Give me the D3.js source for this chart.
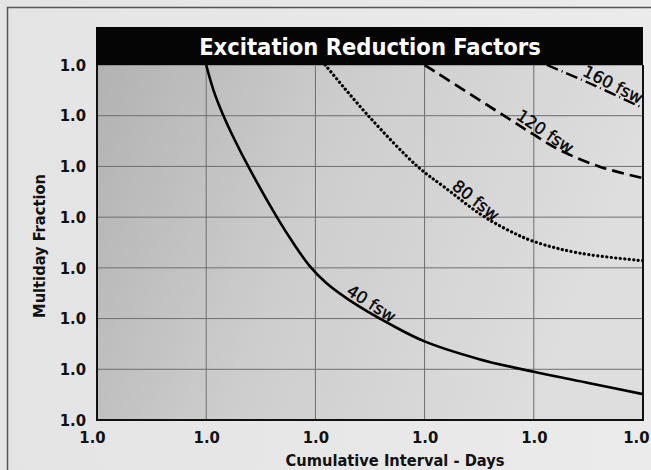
<!DOCTYPE html>
<html><head><meta charset="utf-8">
<script src="https://cdn.jsdelivr.net/npm/d3@7"></script>
<style>
html,body{margin:0;padding:0;background:#e6e6e6;}
svg{display:block;}
</style></head>
<body>
<svg id="chart" width="651" height="470"></svg>
<script>
// ---- data ----
const chartTitle = "Excitation Reduction Factors";
const xAxisTitle = "Cumulative Interval - Days";
const yAxisTitle = "Multiday Fraction";
const xTicks = [0, 1, 2, 3, 4, 5];
const xTickLabels = ["1.0", "1.0", "1.0", "1.0", "1.0", "1.0"];
const yTicks = [0.3, 0.4, 0.5, 0.6, 0.7, 0.8, 0.9, 1.0];
const yTickLabels = ["1.0", "1.0", "1.0", "1.0", "1.0", "1.0", "1.0", "1.0"];

const seriesNames = ["40 fsw", "80 fsw", "120 fsw", "160 fsw"];
const x40 = [1.0, 1.07, 1.15, 1.25, 1.4, 1.65, 1.8, 1.95, 2.1, 2.3, 2.7, 3.0, 3.5, 4.0, 4.5, 5.0];
const y40 = [1.0, 0.948, 0.904, 0.857, 0.794, 0.699, 0.648, 0.603, 0.57, 0.538, 0.487, 0.455, 0.42, 0.395, 0.373, 0.351];
const x80 = [2.09, 2.48, 2.94, 3.17, 3.51, 3.75, 4.0, 4.42, 5.0];
const y80 = [1.0, 0.901, 0.799, 0.761, 0.706, 0.676, 0.652, 0.629, 0.614];
const x120 = [3.0, 3.72, 3.99, 4.24, 4.61, 5.0];
const y120 = [1.0, 0.901, 0.864, 0.832, 0.799, 0.777];
const x160 = [4.12, 4.5, 5.0];
const y160 = [1.0, 0.965, 0.915];
const labelAtX = [2.47, 3.42, 4.06, 4.69];

// ---- layout ----
const svg = d3.select("#chart");
const W = 651, H = 470;
const L = 97, R = 643, T = 65, B = 420;
const x = d3.scaleLinear().domain([0, 5]).range([L, R]);
const y = d3.scaleLinear().domain([0.3, 1.0]).range([B, T]);

const defs = svg.append("defs");
const g1 = defs.append("linearGradient").attr("id", "bg").attr("x1", "0").attr("y1", "0").attr("x2", "1").attr("y2", "0.25");
g1.append("stop").attr("offset", "0").attr("stop-color", "#b2b2b2");
g1.append("stop").attr("offset", "0.45").attr("stop-color", "#cdcdcd");
g1.append("stop").attr("offset", "1").attr("stop-color", "#dedede");
const g2 = defs.append("linearGradient").attr("id", "outer").attr("x1", "0").attr("y1", "0").attr("x2", "1").attr("y2", "0");
g2.append("stop").attr("offset", "0").attr("stop-color", "#e4e4e4");
g2.append("stop").attr("offset", "1").attr("stop-color", "#ebebeb");
defs.append("clipPath").attr("id", "clip").append("rect")
  .attr("x", L).attr("y", T).attr("width", R - L).attr("height", B - T);

// outer background + frame
svg.append("rect").attr("width", W).attr("height", H).attr("fill", "url(#outer)");
svg.append("path").attr("d", `M7.5,${H} V7.5 H${W}`).attr("fill", "none").attr("stroke", "#555").attr("stroke-width", 1.5);

// plot background
svg.append("rect").attr("x", L).attr("y", T).attr("width", R - L).attr("height", B - T).attr("fill", "url(#bg)");

// grid
const grid = svg.append("g");
grid.selectAll("line.v").data(xTicks).join("line").attr("class", "v")
  .attr("x1", d => x(d)).attr("x2", d => x(d)).attr("y1", T).attr("y2", B)
  .attr("stroke", "#6e6e6e").attr("stroke-width", 1);
grid.selectAll("line.h").data(yTicks).join("line").attr("class", "h")
  .attr("x1", L).attr("x2", R).attr("y1", d => y(d)).attr("y2", d => y(d))
  .attr("stroke", "#6e6e6e").attr("stroke-width", 1);

// axes (labels)
const tickFont = "'DejaVu Sans Condensed', 'DejaVu Sans', sans-serif";
const yAxis = d3.axisLeft(y).tickValues(yTicks).tickFormat((d, i) => yTickLabels[i]).tickSize(0).tickPadding(11);
const ya = svg.append("g").attr("transform", `translate(${L},0)`).call(yAxis);
ya.select(".domain").remove();
ya.selectAll("text").attr("font-family", tickFont).attr("font-weight", "bold").attr("font-size", 16.5).attr("fill", "#111");

const xAxis = d3.axisBottom(x).tickValues(xTicks).tickFormat((d, i) => xTickLabels[i]).tickSize(0).tickPadding(11);
const xa = svg.append("g").attr("transform", `translate(0,${B})`).call(xAxis);
xa.select(".domain").remove();
xa.selectAll("text").attr("font-family", tickFont).attr("font-weight", "bold").attr("font-size", 16.5).attr("fill", "#111");
// keep edge labels inside the picture, as in the reference
xa.selectAll("text").each(function (d, i) {
  const bb = this.getBBox();
  const cx = x(d);
  let shift = 0;
  if (i === 0) shift = -5;
  if (cx + bb.width / 2 > W - 2) shift = (W - 2) - (cx + bb.width / 2);
  d3.select(this).attr("dx", shift);
});

// plot border
svg.append("path").attr("d", `M${L},${T} V${B} H${R} V${T}`).attr("fill", "none").attr("stroke", "#111").attr("stroke-width", 2);

// curves
const seriesX = [x40, x80, x120, x160];
const seriesY = [y40, y80, y120, y160];
const dashes = [null, "0.1 4.4", "12 6", "12 4 1 4"];
const caps = ["butt", "round", "butt", "butt"];
const widths = [2.6, 3.2, 2.7, 2.4];
const line = d3.line().x(d => x(d[0])).y(d => y(d[1])).curve(d3.curveCatmullRom.alpha(0.5));
const curves = svg.append("g").attr("clip-path", "url(#clip)");
const paths = [];
seriesNames.forEach((name, i) => {
  const pts = seriesX[i].map((v, j) => [v, seriesY[i][j]]);
  const p = curves.append("path").datum(pts).attr("d", line)
    .attr("fill", "none").attr("stroke", "#000").attr("stroke-width", widths[i])
    .attr("stroke-linecap", caps[i]);
  if (dashes[i]) p.attr("stroke-dasharray", dashes[i]);
  paths.push(p.node());
});

// curve labels placed along the curves
const labFont = "'DejaVu Sans', sans-serif";
seriesNames.forEach((name, i) => {
  const node = paths[i];
  const len = node.getTotalLength();
  const px = x(labelAtX[i]);
  let lo = 0, hi = len;
  for (let k = 0; k < 40; k++) {
    const mid = (lo + hi) / 2;
    if (node.getPointAtLength(mid).x < px) lo = mid; else hi = mid;
  }
  const p0 = node.getPointAtLength(Math.max(0, lo - 10));
  const p1 = node.getPointAtLength(Math.min(len, lo + 10));
  const pc = node.getPointAtLength(lo);
  const ang = Math.atan2(p1.y - p0.y, p1.x - p0.x);
  const off = 3;
  const nx = Math.sin(ang) * off, ny = -Math.cos(ang) * off;
  svg.append("text")
    .attr("transform", `translate(${pc.x + nx},${pc.y + ny}) rotate(${ang * 180 / Math.PI + 2})`)
    .attr("text-anchor", "middle")
    .attr("font-family", labFont).attr("font-size", 16.5).attr("fill", "#000")
    .attr("stroke", "#000").attr("stroke-width", 0.35)
    .text(name);
});

// title bar
svg.append("rect").attr("x", L - 1).attr("y", 27).attr("width", R - L + 1).attr("height", T - 27).attr("fill", "#050505");
svg.append("text").attr("x", 370).attr("y", 55)
  .attr("text-anchor", "middle").attr("font-family", tickFont).attr("font-weight", "bold")
  .attr("font-size", 23.5).attr("fill", "#fff").text(chartTitle);

// axis titles
svg.append("text").attr("x", 395).attr("y", 466)
  .attr("text-anchor", "middle").attr("font-family", tickFont).attr("font-weight", "bold")
  .attr("font-size", 16.3).attr("fill", "#111").text(xAxisTitle);
svg.append("text").attr("transform", "translate(45,246) rotate(-90)")
  .attr("text-anchor", "middle").attr("font-family", tickFont).attr("font-weight", "bold")
  .attr("font-size", 16.3).attr("fill", "#111").text(yAxisTitle);
</script>
</body></html>
